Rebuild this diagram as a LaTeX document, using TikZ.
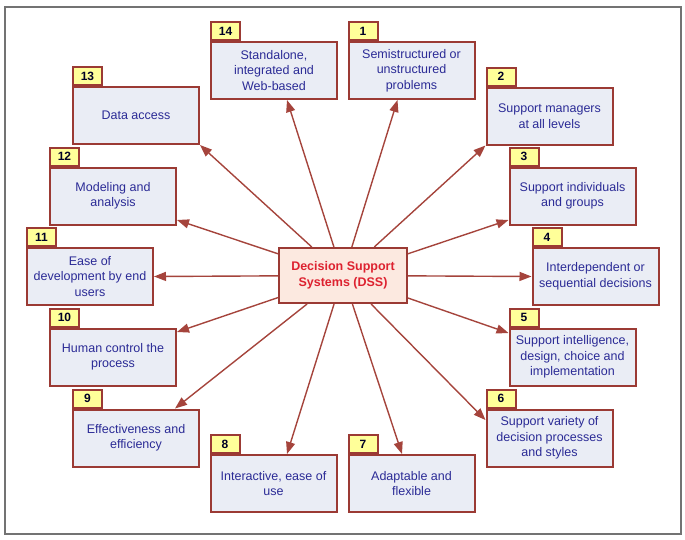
\documentclass[tikz,border=0pt]{standalone}
\usepackage{fontspec}
\setmainfont{Liberation Sans}
\usetikzlibrary{arrows.meta}
\definecolor{brd}{HTML}{9B3A34}
\definecolor{arrc}{HTML}{A5443C}
\definecolor{boxfill}{HTML}{EAEDF5}
\definecolor{tabfill}{HTML}{FFFF99}
\definecolor{txtblue}{HTML}{2B2B96}
\definecolor{dssred}{HTML}{DD2230}
\definecolor{dssfill}{HTML}{FCE9E0}
\begin{document}
\begin{tikzpicture}[x=1pt,y=-1pt,
  feat/.style={draw=brd, line width=2pt, fill=boxfill, minimum width=126pt, minimum height=57pt,
    inner sep=2pt, align=center, text=txtblue, font=\fontsize{12.5}{15.5}\selectfont},
  tab/.style={draw=brd, line width=2pt, fill=tabfill, minimum width=29pt, minimum height=18pt,
    inner sep=0pt, anchor=south west, font=\bfseries\fontsize{12}{14}\selectfont, text=black!85!blue},
  dss/.style={draw=brd, line width=2pt, fill=dssfill, minimum width=128pt, minimum height=55pt,
    align=center, text=dssred, font=\bfseries\fontsize{12.5}{15.5}\selectfont},
  arr/.style={draw=arrc, line width=1.4pt, -{Triangle[length=12pt,width=9pt]}, arrc}
]
\useasboundingbox (0,0) rectangle (685,539);
\draw[gray!90!black, line width=1.2pt] (5,7) rectangle (681,534);

\node[dss] (dss) at (343,275.5) {Decision Support\\Systems (DSS)};

\node[feat] (b14) at (274,70.5) {Standalone,\\integrated and\\Web-based};
\node[feat] (b1) at (411.5,70.5) {Semistructured or\\unstructured\\problems};
\node[feat] (b13) at (136,115.5) {Data access};
\node[feat] (b2) at (549.5,116) {Support managers\\at all levels};
\node[feat] (b12) at (113,196) {Modeling and\\analysis};
\node[feat] (b3) at (572.5,196) {Support individuals\\and groups};
\node[feat] (b11) at (90,276.5) {Ease of\\development by end\\users};
\node[feat] (b4) at (595.5,276.5) {Interdependent or\\sequential decisions};
\node[feat] (b10) at (113,357) {Human control the\\process};
\node[feat] (b5) at (572.5,357) {Support intelligence,\\design, choice and\\implementation};
\node[feat] (b9) at (136,438) {Effectiveness and\\efficiency};
\node[feat] (b6) at (549.5,438) {Support variety of\\decision processes\\and styles};
\node[feat] (b8) at (273.5,483.5) {Interactive, ease of\\use};
\node[feat] (b7) at (411.5,483.5) {Adaptable and\\flexible};

\foreach \n in {1,...,14} {
  \node[tab] (tab\n) at (b\n.north west) {\n};
}

\draw[arr] (dss) -- ([xshift=13pt]b14.south);
\draw[arr] (dss) -- ([xshift=-14pt]b1.south);
\draw[arr] (dss) -- (b13.south east);
\draw[arr] (dss) -- (b2.south west);
\draw[arr] (dss) -- ([yshift=-24pt]b12.east);
\draw[arr] (dss) -- ([yshift=-24pt]b3.west);
\draw[arr] (dss) -- (b11.east);
\draw[arr] (dss) -- (b4.west);
\draw[arr] (dss) -- ([yshift=25pt]b10.east);
\draw[arr] (dss) -- ([yshift=24pt]b5.west);
\draw[arr] (dss) -- ([xshift=39pt]b9.north);
\draw[arr] (dss) -- ([yshift=18pt]b6.west);
\draw[arr] (dss) -- ([xshift=13.5pt]b8.north);
\draw[arr] (dss) -- ([xshift=-9.5pt]b7.north);
\end{tikzpicture}
\end{document}
